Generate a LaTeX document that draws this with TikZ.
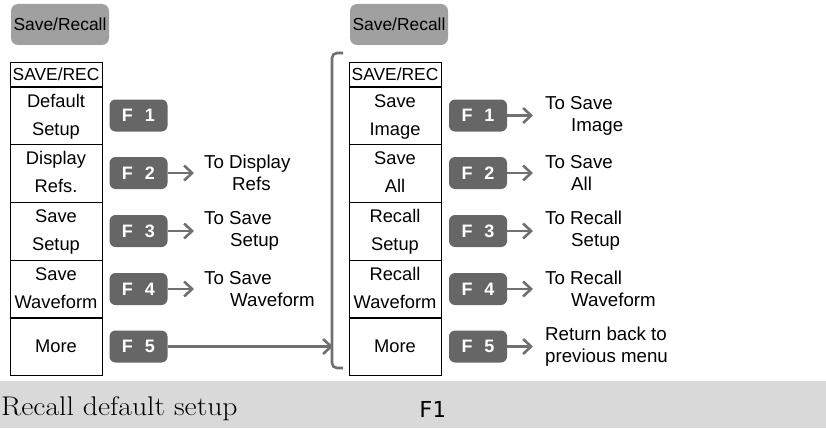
\documentclass[tikz,border=0pt]{standalone}
\usepackage{fontspec}
\newfontfamily\arialf{Liberation Sans}
\newfontfamily\monof{DejaVu Sans Mono}
\newfontfamily\capf[FakeStretch=1.1]{Latin Modern Roman}
\usetikzlibrary{arrows.meta}
\definecolor{btn}{HTML}{666666}
\definecolor{topbtn}{HTML}{A0A0A0}
\definecolor{arr}{HTML}{707070}
\definecolor{band}{HTML}{D9D9D9}
\begin{document}
\begin{tikzpicture}[x=1pt,y=-1pt,
 menurow/.style={draw=black,line width=0.8pt,minimum width=92pt,minimum height=58pt,inner sep=0pt,text width=92pt,align=center,font=\arialf\fontsize{18.3}{28}\selectfont,execute at begin node=\strut,execute at end node=\strut},
 menutitle/.style={draw=black,line width=0.8pt,minimum width=92pt,minimum height=25pt,inner sep=0pt,text width=92pt,align=center,font=\arialf\fontsize{17.4}{20}\selectfont},
 fkey/.style={fill=btn,rounded corners=6pt,minimum width=58pt,minimum height=32pt,inner sep=0pt,text=white,font=\arialf\bfseries\fontsize{18}{20}\selectfont},
 topkey/.style={fill=topbtn,rounded corners=7pt,minimum width=98pt,minimum height=41pt,inner sep=0pt,font=\arialf\fontsize{17.4}{20}\selectfont},
 lbl/.style={anchor=west,align=left,inner sep=0pt,font=\arialf\fontsize{18.7}{22}\selectfont},
 farrow/.style={draw=arr,line width=2.6pt,-{Straight Barb[length=8pt,width=15pt]}},
 bracket/.style={draw=arr,line width=2.6pt,rounded corners=5pt}
]
\useasboundingbox (0,0) rectangle (826,428);
% top buttons
\node[topkey] (sr1) at (60,24.5) {Save/Recall};
\node[topkey] (sr2) at (399,24.5) {Save/Recall};
% left menu
\node[menutitle] (lt) at (56,74.5) {SAVE/REC};
\node[menurow] (lr1) at (56,115.5) {Default\\Setup};
\node[menurow] (lr2) at (56,173) {Display\\Refs.};
\node[menurow] (lr3) at (56,231) {Save\\Setup};
\node[menurow] (lr4) at (56,289) {Save\\Waveform};
\node[menurow] (lr5) at (56,346.5) {More};
% right menu
\node[menutitle] (rt) at (395,74.5) {SAVE/REC};
\node[menurow] (rr1) at (395,115.5) {Save\\Image};
\node[menurow] (rr2) at (395,173) {Save\\All};
\node[menurow] (rr3) at (395,231) {Recall\\Setup};
\node[menurow] (rr4) at (395,289) {Recall\\Waveform};
\node[menurow] (rr5) at (395,346.5) {More};
% left F keys
\node[fkey] (lf1) at (138.5,115.5) {F\hspace{12pt}1};
\node[fkey] (lf2) at (138.5,173) {F\hspace{12pt}2};
\node[fkey] (lf3) at (138.5,231) {F\hspace{12pt}3};
\node[fkey] (lf4) at (138.5,289) {F\hspace{12pt}4};
\node[fkey] (lf5) at (138.5,346.5) {F\hspace{12pt}5};
% right F keys
\node[fkey] (rf1) at (478,115.5) {F\hspace{12pt}1};
\node[fkey] (rf2) at (478,173) {F\hspace{12pt}2};
\node[fkey] (rf3) at (478,231) {F\hspace{12pt}3};
\node[fkey] (rf4) at (478,289) {F\hspace{12pt}4};
\node[fkey] (rf5) at (478,346.5) {F\hspace{12pt}5};
% left labels
\node[lbl] (ll2) at (204,173) {To Display\\\hspace*{28pt}Refs};
\node[lbl] (ll3) at (204,231) {To Save\\\hspace*{26pt}Setup};
\node[lbl] (ll4) at (204,289) {To Save\\\hspace*{26pt}Waveform};
% right labels
\node[lbl] (rl1) at (545,115.5) {To Save\\\hspace*{26pt}Image};
\node[lbl] (rl2) at (545,173) {To Save\\\hspace*{26pt}All};
\node[lbl] (rl3) at (545,231) {To Recall\\\hspace*{26pt}Setup};
\node[lbl] (rl4) at (545,289) {To Recall\\\hspace*{26pt}Waveform};
\node[lbl] (rl5) at (545,346.5) {Return back to\\previous menu};
% arrows
\draw[farrow,shorten >=10pt] (lf2) -- (ll2);
\draw[farrow,shorten >=10pt] (lf3) -- (ll3);
\draw[farrow,shorten >=10pt] (lf4) -- (ll4);
\draw[farrow,shorten >=12pt] (rf1) -- (rl1);
\draw[farrow,shorten >=12pt] (rf2) -- (rl2);
\draw[farrow,shorten >=12pt] (rf3) -- (rl3);
\draw[farrow,shorten >=12pt] (rf4) -- (rl4);
\draw[farrow,shorten >=12pt] (rf5) -- (rl5);
% bracket
\coordinate (bt) at (343,53);
\coordinate (bb) at (343,368);
\coordinate (brk) at (333,346.5);
\draw[bracket] (bt) -- (332,53) -- (332,368) -- (bb);
\draw[farrow] (lf5) -- (brk);
% bottom band
\fill[band] (0,381) rectangle (826,428);
\node[anchor=base west,inner sep=0pt,font=\capf\fontsize{27}{30}\selectfont] (cap) at (1,415) {Recall default setup};
\node[anchor=base west,inner sep=0pt,font=\monof\fontsize{22}{26}\selectfont] (fk) at (419,417) {F1};
\end{tikzpicture}
\end{document}
